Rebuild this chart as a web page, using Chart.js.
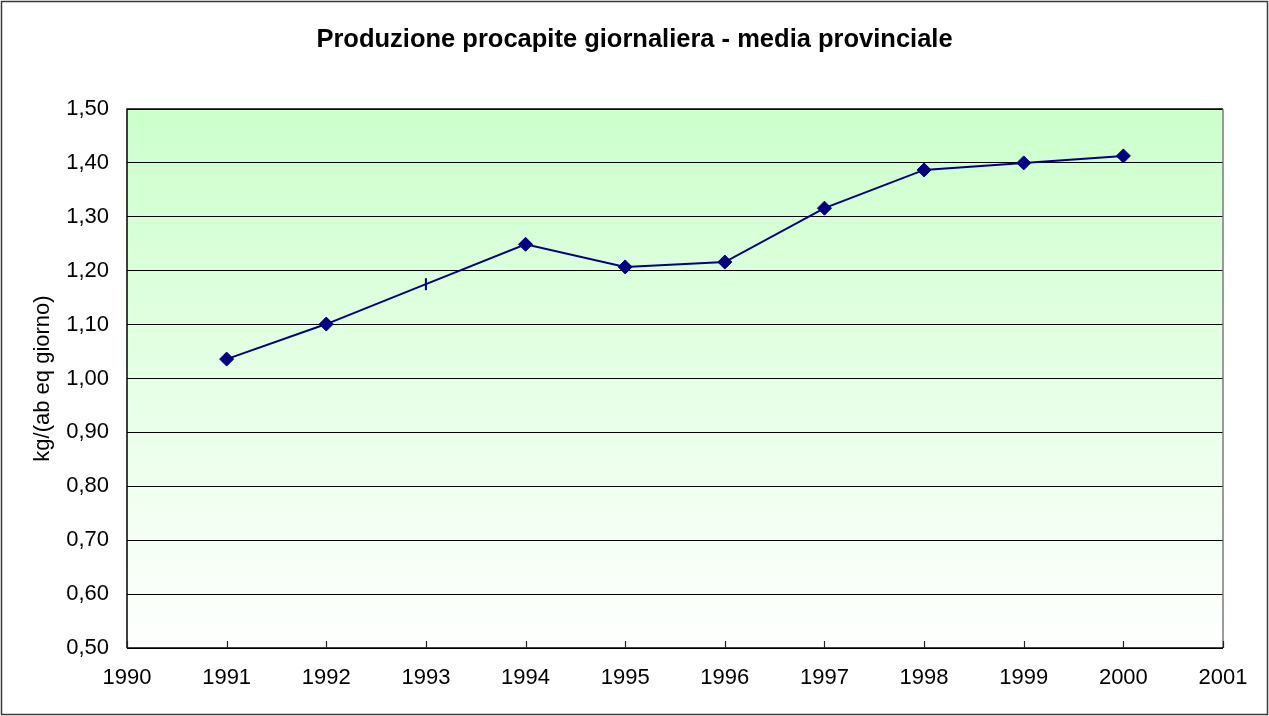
<!DOCTYPE html>
<html>
<head>
<meta charset="utf-8">
<script src="https://cdn.jsdelivr.net/npm/chart.js@4"></script>
<style>
  html, body { margin: 0; padding: 0; background: #fff; }
  #wrap { width: 1269px; height: 716px; position: relative; }
</style>
</head>
<body>
<div id="wrap"><canvas id="c" width="1269" height="716"></canvas></div>
<script>
// ---- data ----
const years = [1991, 1992, 1993, 1994, 1995, 1996, 1997, 1998, 1999, 2000];
const values = [1.036, 1.101, 1.175, 1.249, 1.207, 1.216, 1.316, 1.387, 1.400, 1.413];
const markerStyles = ['rectRot', 'rectRot', 'line', 'rectRot', 'rectRot', 'rectRot', 'rectRot', 'rectRot', 'rectRot', 'rectRot'];
const markerRotation = [0, 0, 90, 0, 0, 0, 0, 0, 0, 0];
const xRange = [1990, 2001];
const yRange = [0.5, 1.5];
const yStep = 0.1;
const titleText = 'Produzione procapite giornaliera - media provinciale';
const yTitleText = 'kg/(ab eq giorno)';

const FONT = "'Liberation Sans', Arial, sans-serif";

const decor = {
  id: 'decor',
  beforeDraw(chart) {
    const { ctx, chartArea: a } = chart;
    const g = ctx.createLinearGradient(0, a.top, 0, a.bottom);
    g.addColorStop(0, '#CCFFCC');
    g.addColorStop(1, '#FFFFFF');
    ctx.save();
    ctx.fillStyle = g;
    ctx.fillRect(a.left, a.top, a.right - a.left, a.bottom - a.top);
    ctx.restore();
  },
  beforeDatasetsDraw(chart) {
    const { ctx, chartArea: a, scales } = chart;
    ctx.save();
    ctx.lineWidth = 1.5;
    ctx.strokeStyle = '#000';
    ctx.beginPath();
    ctx.moveTo(a.left, a.bottom); ctx.lineTo(a.left, a.top); ctx.lineTo(a.right, a.top);
    ctx.stroke();
    ctx.strokeStyle = '#7a7a7a';
    ctx.beginPath();
    ctx.moveTo(a.right, a.top); ctx.lineTo(a.right, a.bottom);
    ctx.stroke();
    ctx.strokeStyle = '#000';
    ctx.beginPath();
    ctx.moveTo(a.left, a.bottom); ctx.lineTo(a.right, a.bottom);
    ctx.stroke();
    ctx.lineWidth = 1.2;
    ctx.strokeStyle = '#222';
    scales.x.ticks.forEach(t => {
      const px = Math.round(scales.x.getPixelForValue(t.value)) + 0.5;
      ctx.beginPath();
      ctx.moveTo(px, a.bottom);
      ctx.lineTo(px, a.bottom - 7);
      ctx.stroke();
    });
    ctx.restore();
  },
  afterDraw(chart) {
    const { ctx } = chart;
    ctx.save();
    ctx.lineWidth = 1.5;
    ctx.strokeStyle = '#3a3a3a';
    ctx.strokeRect(1.5, 1.5, 1266, 713);
    ctx.restore();
  }
};

new Chart(document.getElementById('c'), {
  type: 'line',
  data: {
    datasets: [{
      data: years.map((y, i) => ({ x: y, y: values[i] })),
      borderColor: '#000080',
      backgroundColor: '#000080',
      borderWidth: 2,
      pointStyle: markerStyles,
      pointRotation: markerRotation,
      pointRadius: markerStyles.map(s => s === 'line' ? 6 : 7),
      pointBorderWidth: markerStyles.map(s => s === 'line' ? 2 : 1),
      pointBorderColor: '#000080',
      pointBackgroundColor: '#000080',
      tension: 0,
      fill: false
    }]
  },
  options: {
    responsive: false,
    animation: false,
    layout: { padding: 0 },
    plugins: {
      legend: { display: false },
      tooltip: { enabled: false },
      title: {
        display: true,
        text: titleText,
        color: '#000',
        font: { family: FONT, size: 25.5, weight: 'bold', lineHeight: 1.2 },
        padding: { top: 25, bottom: 53.4 }
      }
    },
    scales: {
      x: {
        type: 'linear',
        min: xRange[0],
        max: xRange[1],
        afterFit: s => { s.height = 68; },
        grid: { display: false, drawTicks: false },
        border: { display: false },
        ticks: {
          stepSize: 1,
          padding: 17,
          color: '#000',
          font: { family: FONT, size: 22 },
          maxRotation: 0,
          autoSkip: false,
          callback: v => String(v)
        }
      },
      y: {
        type: 'linear',
        min: yRange[0],
        max: yRange[1],
        afterFit: s => { s.width = 127; },
        grid: { color: '#000', lineWidth: 1, drawTicks: false },
        border: { display: false },
        ticks: {
          stepSize: yStep,
          padding: 18,
          color: '#000',
          font: { family: FONT, size: 22 },
          callback: v => v.toFixed(2).replace('.', ',')
        },
        title: {
          display: true,
          text: yTitleText,
          color: '#000',
          font: { family: FONT, size: 22 },
          padding: { top: 30, bottom: 0 }
        }
      },
      yRightSpacer: {
        type: 'linear',
        position: 'right',
        display: true,
        min: yRange[0],
        max: yRange[1],
        afterFit: s => { s.width = 46; },
        grid: { display: false, drawTicks: false },
        border: { display: false },
        ticks: { display: false }
      }
    }
  },
  plugins: [decor]
});
</script>
</body>
</html>
